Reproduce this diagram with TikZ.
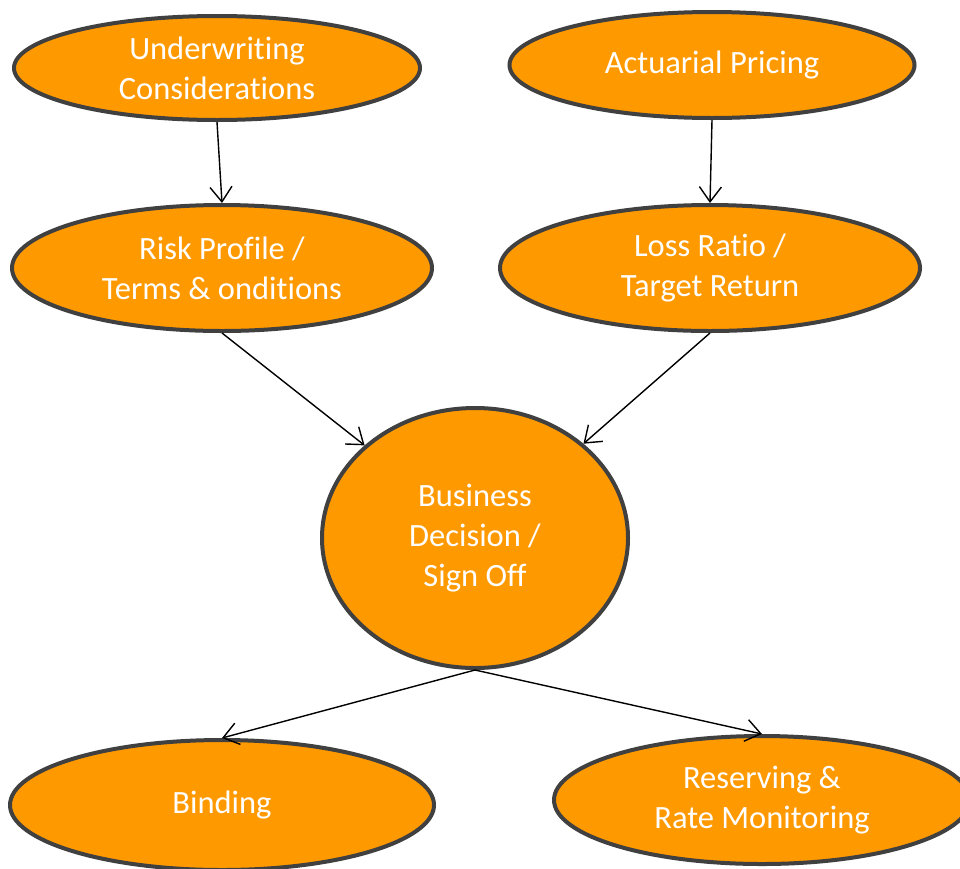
\documentclass[tikz,border=0pt]{standalone}
\usepackage{fontspec}
\setmainfont{Carlito}[Ligatures=NoCommon]
\usetikzlibrary{shapes.geometric,arrows.meta}
\definecolor{fillorange}{HTML}{FF9900}
\definecolor{rimgray}{HTML}{404040}
\tikzset{
  blob/.style={ellipse, draw=rimgray, line width=4pt, fill=fillorange, inner sep=0pt,
    text=white, align=center, font=\fontsize{32.5}{40}\selectfont},
  link/.style={draw=black, line width=1.4pt, -{Straight Barb[length=15pt,width=22pt,line width=1.4pt]}}
}
\begin{document}
\begin{tikzpicture}[x=1pt,y=-1pt]
  \clip (0,0) rectangle (960,868);
  \fill[white] (0,0) rectangle (960,868);
  \node[blob, minimum width=406pt, minimum height=104pt] (uw)   at (217,68)  {Underwriting\\Considerations};
  \node[blob, minimum width=405pt, minimum height=106pt] (act)  at (712,65)  {Actuarial Pricing};
  \node[blob, minimum width=420pt, minimum height=126pt] (risk) at (222,268) {Risk Profile /\\Terms \& onditions};
  \node[blob, minimum width=420pt, minimum height=126pt] (loss) at (710,268) {Loss Ratio /\\Target Return};
  \node[blob, minimum width=306pt, minimum height=260pt] (biz)  at (475,538) {Business\\Decision /\\Sign Off};
  \node[blob, minimum width=424pt, minimum height=130pt] (bind) at (222,805) {Binding};
  \node[blob, minimum width=416pt, minimum height=128pt] (res)  at (762,800) {Reserving \&\\Rate Monitoring};
  \draw[link] (uw.south) -- (risk.north);
  \draw[link] (act.south) -- (loss.north);
  \draw[link] (risk.south) -- (biz.140);
  \draw[link] (loss.south) -- (biz.41);
  \draw[link] (biz.south) -- (bind.north);
  \draw[link] (biz.south) -- (res.north);
\end{tikzpicture}
\end{document}
